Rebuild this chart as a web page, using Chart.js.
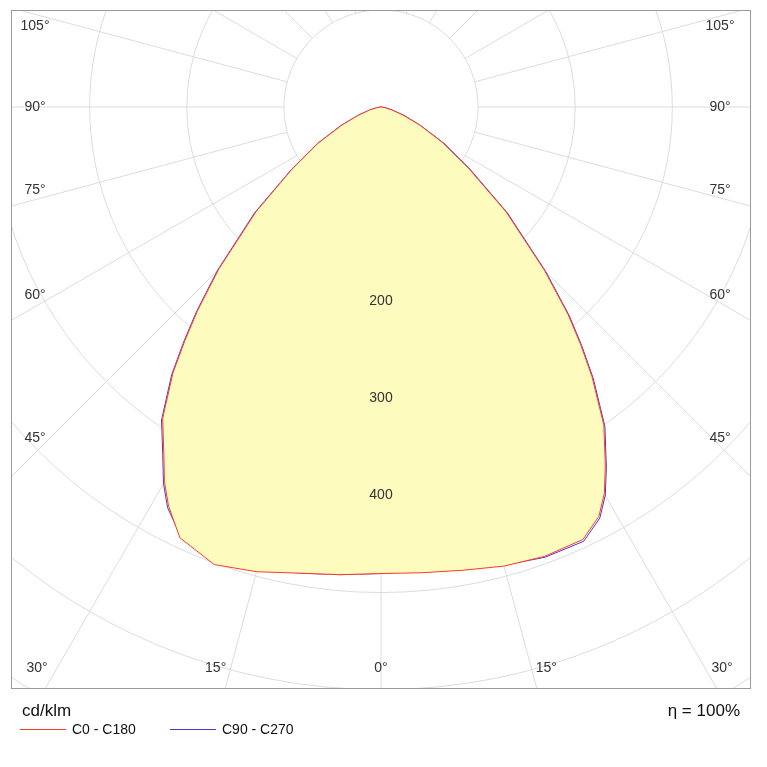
<!DOCTYPE html>
<html>
<head>
<meta charset="utf-8">
<script src="https://cdn.jsdelivr.net/npm/chart.js@4/dist/chart.umd.min.js"></script>
<style>
  body { margin: 0; background: #fff; }
</style>
</head>
<body>
<canvas id="polar" width="767" height="767"></canvas>
<script>
// ==== Data (angles in degrees from nadir, negative = left half) ====
const angles = [-90, -85, -80, -75, -70, -65, -60, -55, -50, -45, -42, -40, -38, -35, -32, -30, -28, -25, -20, -15, -10, -5, 0,
                5, 10, 15, 20, 25, 28, 30, 32, 35, 38, 40, 42, 45, 50, 55, 60, 65, 70, 75, 80, 85, 90];
const c0c180 = [0, 1, 5, 12, 25, 45, 75, 112, 168, 236, 282, 314, 348, 392, 422, 446, 466, 490, 502, 496, 488, 484, 481,
                482, 485, 490, 493, 492, 478, 460, 436, 400, 353, 320, 288, 238, 168, 110, 73, 44, 24, 11, 4, 1, 0];
const c90c270 = [0, 1, 5, 12, 25, 46, 76, 113, 170, 238, 284, 316, 350, 394, 424, 448, 468, 488, 496, 492, 488, 484, 481,
                 480, 484, 489, 494, 494, 480, 462, 438, 402, 355, 322, 290, 240, 170, 112, 75, 45, 25, 12, 5, 1, 0];
const gridRadii = [100, 200, 300, 400, 500, 600, 700];
const valueLabels = [200, 300, 400];
const angleLabelsSide = [105, 90, 75, 60, 45];
const angleLabelsBottom = [30, 15, 0];

function toXY(vals) {
  return angles.map((a, i) => {
    const rad = a * Math.PI / 180;
    return { x: vals[i] * Math.sin(rad), y: -vals[i] * Math.cos(rad) };
  });
}

// ==== Polar grid plugin ====
const polarGrid = {
  id: 'polarGrid',
  beforeDatasetsDraw(chart) {
    const { ctx, chartArea: ca, scales: { x, y } } = chart;
    const cx = x.getPixelForValue(0), cy = y.getPixelForValue(0);
    const k = x.getPixelForValue(100) - cx;
    ctx.save();
    ctx.beginPath();
    ctx.rect(ca.left, ca.top, ca.right - ca.left, ca.bottom - ca.top);
    ctx.clip();
    ctx.strokeStyle = '#dcdcdc';
    ctx.lineWidth = 1;
    gridRadii.forEach(r => {
      ctx.beginPath();
      ctx.arc(cx, cy, r * k / 100, 0, Math.PI * 2);
      ctx.stroke();
    });
    for (let a = -180; a < 180; a += 15) {
      const rad = a * Math.PI / 180;
      ctx.beginPath();
      ctx.moveTo(cx + Math.sin(rad) * k, cy + Math.cos(rad) * k);
      ctx.lineTo(cx + Math.sin(rad) * k * 9, cy + Math.cos(rad) * k * 9);
      ctx.stroke();
    }
    ctx.restore();
  },
  afterDatasetsDraw(chart) {
    const { ctx, chartArea: ca, scales: { x, y } } = chart;
    const cx = x.getPixelForValue(0), cy = y.getPixelForValue(0);
    const k = x.getPixelForValue(100) - cx;
    ctx.save();
    ctx.fillStyle = '#333';
    ctx.font = '14px "Liberation Sans", Arial, sans-serif';
    ctx.textAlign = 'center';
    ctx.textBaseline = 'middle';
    valueLabels.forEach(v => ctx.fillText(String(v), cx, cy + v * k / 100));

    // side angle labels
    angleLabelsSide.forEach(a => {
      const rad = a * Math.PI / 180;
      const dx = ca.right - 30 - cx;
      const ly = cy + dx / Math.tan(rad);
      const off = a > 90 ? 10 : (a < 90 ? -8 : 0);
      ctx.fillText(a + '°', ca.right - 30, ly + off);
      ctx.fillText(a + '°', ca.left + 24, ly + off);
    });
    // bottom angle labels
    angleLabelsBottom.forEach(a => {
      const rad = a * Math.PI / 180;
      const ly = ca.bottom - 20;
      const dx = (ly - cy) * Math.tan(rad);
      const off = a === 0 ? 0 : 15;
      let px = cx + dx + off;
      if (a === 30) px = ca.right - 28;
      ctx.fillText(a + '°', px, ly);
      px = cx - dx - off;
      if (a === 30) px = ca.left + 26;
      if (a !== 0) ctx.fillText(a + '°', px, ly);
    });

    // frame
    ctx.strokeStyle = '#9a9a9a';
    ctx.lineWidth = 1;
    ctx.strokeRect(ca.left + 0.5, ca.top + 0.5, ca.right - ca.left, ca.bottom - ca.top);

    // footer
    ctx.fillStyle = '#111';
    ctx.textBaseline = 'middle';
    ctx.font = '17px "Liberation Sans", Arial, sans-serif';
    ctx.textAlign = 'left';
    ctx.fillText('cd/klm', 22, 711);
    ctx.textAlign = 'right';
    ctx.fillText('η = 100%', 740, 711);
    ctx.font = '14px "Liberation Sans", Arial, sans-serif';
    ctx.textAlign = 'left';
    const legend = [['C0 - C180', '#ff3b22', 20], ['C90 - C270', '#4b35d8', 170]];
    legend.forEach(([t, c, lx]) => {
      ctx.strokeStyle = c;
      ctx.beginPath();
      ctx.moveTo(lx, 729.5);
      ctx.lineTo(lx + 46, 729.5);
      ctx.stroke();
      ctx.fillText(t, lx + 52, 730);
    });
    ctx.restore();
  }
};

// ==== Chart ====
const chart = new Chart(document.getElementById('polar').getContext('2d'), {
  type: 'scatter',
  data: {
    datasets: [
      {
        label: 'C0 - C180',
        data: toXY(c0c180),
        showLine: true,
        borderColor: '#ff3b22',
        borderWidth: 1,
        pointRadius: 0,
        backgroundColor: 'rgba(253, 252, 190, 1)',
        fill: 'shape',
        tension: 0
      },
      {
        label: 'C90 - C270',
        data: toXY(c90c270),
        showLine: true,
        borderColor: '#4b35d8',
        borderWidth: 1,
        pointRadius: 0,
        fill: false,
        tension: 0
      }
    ]
  },
  options: {
    responsive: false,
    animation: false,
    layout: { padding: { left: 11, right: 17, top: 10, bottom: 79 } },
    plugins: { legend: { display: false }, tooltip: { enabled: false } },
    scales: {
      x: { type: 'linear', min: -381, max: 380, display: false },
      y: { type: 'linear', min: -599, max: 100, display: false }
    }
  },
  plugins: [polarGrid]
});
</script>
</body>
</html>
